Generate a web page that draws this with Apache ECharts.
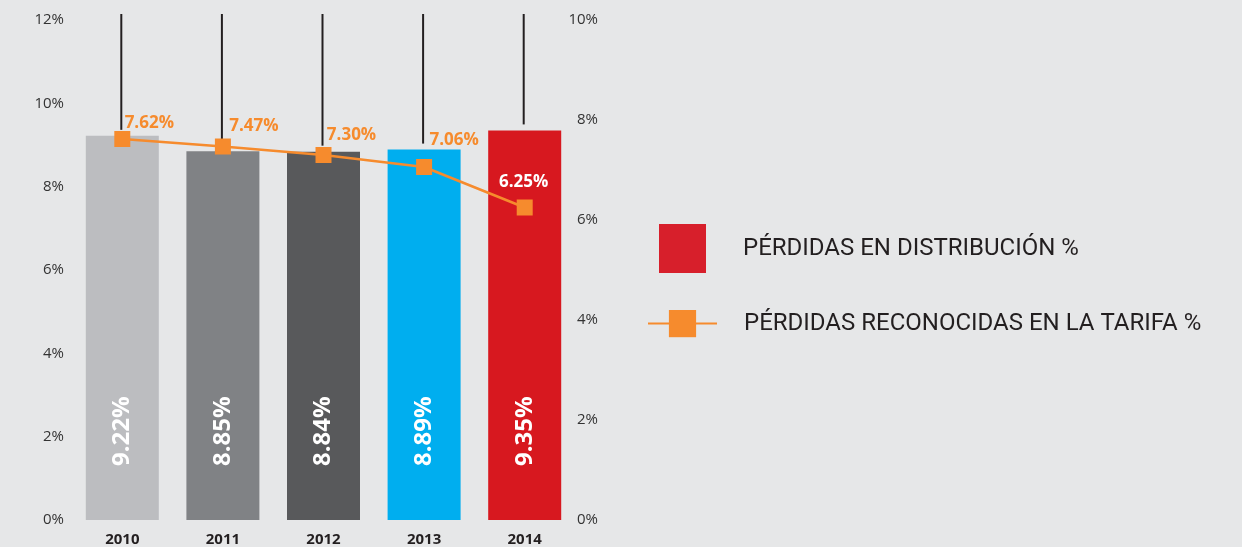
<!DOCTYPE html>
<html>
<head>
<meta charset="utf-8">
<script src="https://cdn.jsdelivr.net/npm/echarts@6/dist/echarts.min.js"></script>
<style>
  html, body { margin: 0; padding: 0; background: #e6e7e8; }
  #chart { width: 1242px; height: 547px; }
</style>
</head>
<body>
<div id="chart"></div>
<script>
// datos
const years = ["2010", "2011", "2012", "2013", "2014"];
const perdidasDistribucion = [9.22, 8.85, 8.84, 8.89, 9.35];
const perdidasTarifa = [7.62, 7.47, 7.30, 7.06, 6.25];
const barColors = ["#bcbdc0", "#808285", "#58595b", "#00aeef", "#d7181f"];

// desplazamiento de las etiquetas naranjas (px)
const labelOffsets = [[27, 6], [31, 1], [28, 2], [30, -5], [-1, -4]];

const ORANGE = "#f68b2d";
const nameBar = "PÉRDIDAS EN DISTRIBUCIÓN %";
const nameLine = "PÉRDIDAS RECONOCIDAS EN LA TARIFA %";

const chart = echarts.init(document.getElementById("chart"));

const option = {
  backgroundColor: "#e6e7e8",
  animation: false,
  textStyle: { fontFamily: "Open Sans" },
  grid: { left: 72, right: 667, top: 20, bottom: 25 },
  legend: [
    {
      data: [{ name: nameBar, icon: "rect", itemStyle: { color: "#d71f2b" } }],
      left: 654, top: 219,
      itemWidth: 47, itemHeight: 49,
      selectedMode: false,
      textStyle: { fontFamily: "Roboto", fontSize: 24, color: "#231f20", padding: [0, 0, 0, 32] }
    },
    {
      data: [nameLine],
      left: 642, top: 305,
      itemWidth: 69, itemHeight: 34,
      selectedMode: false,
      textStyle: { fontFamily: "Roboto", fontSize: 24, color: "#231f20", padding: [0, 0, 0, 22] }
    }
  ],
  xAxis: {
    type: "category",
    data: years,
    axisLine: { show: false },
    axisTick: { show: false },
    axisLabel: { fontWeight: "bold", fontSize: 15, color: "#231f20", margin: 12 }
  },
  yAxis: [
    {
      type: "value", min: 0, max: 12, interval: 2,
      splitLine: { show: false },
      axisLabel: { formatter: "{value}%", fontSize: 15, color: "#333", margin: 8 }
    },
    {
      type: "value", min: 0, max: 10, interval: 2,
      splitLine: { show: false },
      axisLabel: { formatter: "{value}%", fontSize: 15, color: "#333", margin: 23, align: "right" }
    }
  ],
  series: [
    {
      name: nameBar,
      type: "bar",
      barWidth: 73,
      data: perdidasDistribucion.map((v, i) => ({ value: v, itemStyle: { color: barColors[i] } })),
      label: {
        show: true,
        position: "insideBottom",
        rotate: 90,
        align: "left",
        verticalAlign: "middle",
        distance: 54,
        color: "#fff",
        fontWeight: "bold",
        fontSize: 24,
        formatter: (p) => p.value.toFixed(2) + "%"
      }
    },
    {
      // lineas verticales negras sobre las barras
      type: "custom",
      silent: true,
      clip: false,
      data: perdidasDistribucion.map((v, i) => [i, v]),
      renderItem: (params, api) => {
        const bottom = api.coord([api.value(0), api.value(1)]);
        const top = api.coord([api.value(0), 12]);
        return {
          type: "line",
          shape: { x1: bottom[0] - 1, y1: top[1] - 6, x2: bottom[0] - 1, y2: bottom[1] - 6 },
          style: { stroke: "#231f20", lineWidth: 2 }
        };
      },
      z: 1
    },
    {
      name: nameLine,
      type: "line",
      yAxisIndex: 1,
      data: perdidasTarifa.map((v, i) => {
        const last = i === perdidasTarifa.length - 1;
        return {
          value: v,
          label: last
            ? { color: "#fff", offset: labelOffsets[i] }
            : { offset: labelOffsets[i] }
        };
      }),
      symbol: "rect",
      symbolSize: 16,
      lineStyle: { color: ORANGE, width: 2.5 },
      itemStyle: { color: ORANGE },
      label: {
        show: true,
        position: "top",
        color: ORANGE,
        fontWeight: "bold",
        fontSize: 17,
        formatter: (p) => p.value.toFixed(2) + "%"
      },
      z: 5
    }
  ]
};

chart.setOption(option);
</script>
</body>
</html>
